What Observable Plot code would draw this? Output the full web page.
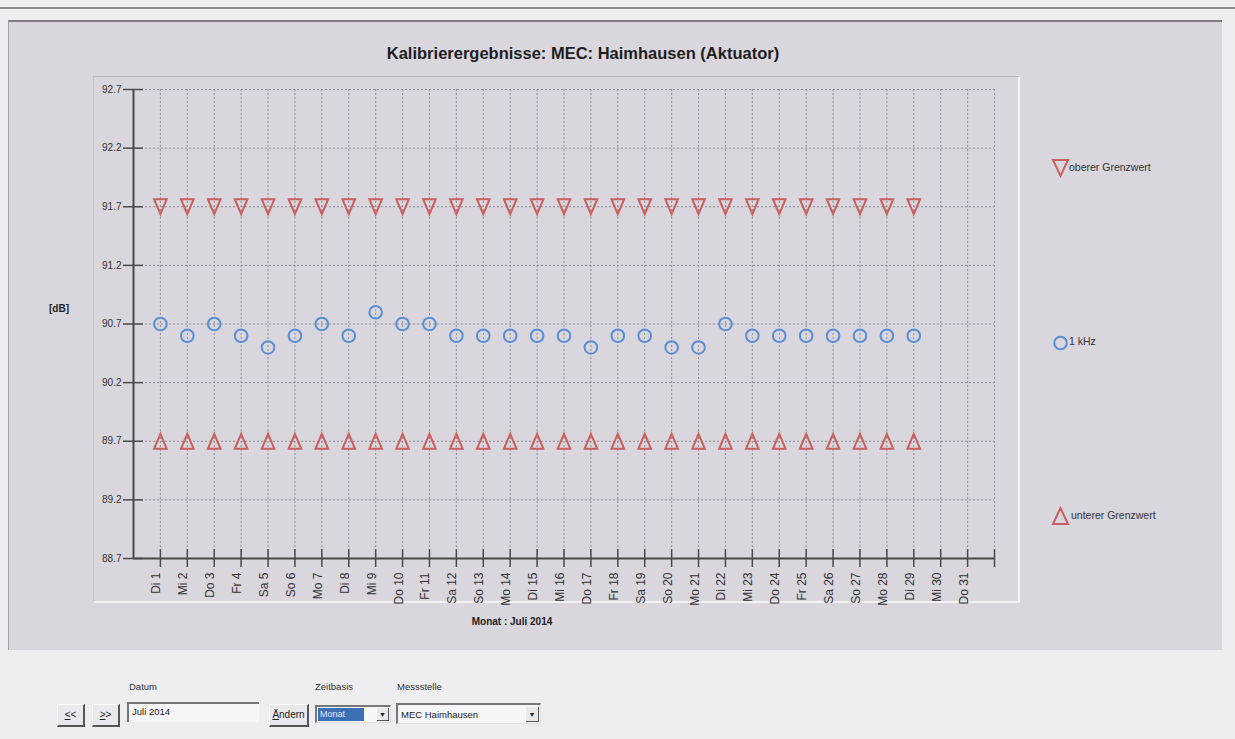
<!DOCTYPE html>
<html><head><meta charset="utf-8">
<script src="https://cdn.jsdelivr.net/npm/d3@7"></script>
<script src="https://cdn.jsdelivr.net/npm/@observablehq/plot@0.6"></script>
<style>
body{margin:0;background:#eeedf0;}
#root{position:relative;width:1235px;height:739px;overflow:hidden;font-family:"Liberation Sans",Arial,sans-serif;color:#222;}
.abs{position:absolute;}
.lbl{font-size:9.5px;color:#333;}
.btn{position:absolute;box-sizing:border-box;background:#e9e8ec;border-top:1px solid #fff;border-left:1px solid #fff;border-right:2px solid #555;border-bottom:2px solid #555;font-size:10px;color:#222;text-align:center;}
.field{position:absolute;box-sizing:border-box;background:#f6f6f8;border-top:2px solid #777;border-left:2px solid #777;border-right:1px solid #ddd;border-bottom:1px solid #ddd;font-size:9.5px;color:#222;}
.legtxt{position:absolute;font-size:10.5px;color:#333;white-space:nowrap;}
</style></head><body>
<div id="root">
  <div class="abs" style="left:0;top:7px;width:1235px;height:2px;background:#8c8b8f"></div>
  <div class="abs" style="left:8px;top:20px;width:1214px;height:630px;background:#d9d6dd;border-top:2px solid #7f7d82;border-left:1px solid #a3a0a6;box-sizing:border-box"></div>
  <div class="abs" style="left:93px;top:76px;width:927px;height:527px;box-sizing:border-box;border-top:1px solid #b8b5bc;border-left:1px solid #c4c1c8;border-right:2px solid #f3f2f5;border-bottom:2px solid #f3f2f5"></div>
  <div class="abs" style="left:0;top:44px;width:1166px;text-align:center;font-weight:bold;font-size:16.5px;color:#1e1e1e">Kalibrierergebnisse: MEC: Haimhausen (Aktuator)</div>
  <div class="abs" style="left:49px;top:303px;font-weight:bold;font-size:10px;color:#222">[dB]</div>
  <div class="abs" style="left:412px;top:616px;width:200px;text-align:center;font-weight:bold;font-size:10px;color:#222">Monat : Juli 2014</div>
  <div id="chart" class="abs" style="left:0;top:0"></div>

  <svg class="abs" style="left:1050px;top:157px" width="22" height="22"><path d="M3,3 L18,3 L10.5,19 Z" fill="none" stroke="#c9605f" stroke-width="2"/></svg>
  <div class="legtxt" style="left:1069px;top:161px">oberer Grenzwert</div>
  <svg class="abs" style="left:1050px;top:332px" width="22" height="22"><circle cx="10.5" cy="11" r="6.3" fill="none" stroke="#5a8fd6" stroke-width="2"/></svg>
  <div class="legtxt" style="left:1069px;top:335px">1 kHz</div>
  <svg class="abs" style="left:1050px;top:505px" width="22" height="22"><path d="M3,19 L18,19 L10.5,3 Z" fill="none" stroke="#c9605f" stroke-width="2"/></svg>
  <div class="legtxt" style="left:1071px;top:509px">unterer Grenzwert</div>

  <div class="abs lbl" style="left:129px;top:681px">Datum</div>
  <div class="abs lbl" style="left:315px;top:681px">Zeitbasis</div>
  <div class="abs lbl" style="left:397px;top:681px">Messstelle</div>
  <div class="btn" style="left:57px;top:704px;width:28px;height:23px;line-height:20px"><u>&lt;</u>&lt;</div>
  <div class="btn" style="left:92px;top:704px;width:28px;height:23px;line-height:20px"><u>&gt;</u>&gt;</div>
  <div class="field" style="left:127px;top:702px;width:132px;height:20px;line-height:16px;padding-left:3px;border-bottom:none;border-right:none">Juli 2014</div>
  <div class="btn" style="left:269px;top:704px;width:40px;height:23px;line-height:20px"><u>Ä</u>ndern</div>
  <div class="field" style="left:315px;top:705px;width:76px;height:18px;">
    <div class="abs" style="left:1px;top:1px;width:44px;height:13px;background:#3c6fb4;color:#dfe8f8;line-height:13px;padding-left:2px;font-size:9px">Monat</div>
    <div class="abs" style="right:1px;top:1px;width:12px;height:13px;background:#e9e8ec;border-right:1px solid #555;border-bottom:1px solid #555;box-sizing:border-box;font-size:7px;text-align:center;line-height:13px">&#9660;</div>
  </div>
  <div class="field" style="left:396px;top:703px;width:145px;height:21px;">
    <div class="abs" style="left:3px;top:3px;line-height:13px">MEC Haimhausen</div>
    <div class="abs" style="right:1px;top:2px;width:13px;height:15px;background:#e9e8ec;border-right:1px solid #555;border-bottom:1px solid #555;box-sizing:border-box;font-size:7px;text-align:center;line-height:15px">&#9660;</div>
  </div>
</div>
<script>
// ---- data ----
const dayLabels = ["Di 1","Mi 2","Do 3","Fr 4","Sa 5","So 6","Mo 7","Di 8","Mi 9","Do 10","Fr 11","Sa 12","So 13","Mo 14","Di 15","Mi 16","Do 17","Fr 18","Sa 19","So 20","Mo 21","Di 22","Mi 23","Do 24","Fr 25","Sa 26","So 27","Mo 28","Di 29","Mi 30","Do 31"];
const measDays = [1,2,3,4,5,6,7,8,9,10,11,12,13,14,15,16,17,18,19,20,21,22,23,24,25,26,27,28,29];
const kHz1 = [90.7,90.6,90.7,90.6,90.5,90.6,90.7,90.6,90.8,90.7,90.7,90.6,90.6,90.6,90.6,90.6,90.5,90.6,90.6,90.5,90.5,90.7,90.6,90.6,90.6,90.6,90.6,90.6,90.6];
const upperLimit = [91.7,91.7,91.7,91.7,91.7,91.7,91.7,91.7,91.7,91.7,91.7,91.7,91.7,91.7,91.7,91.7,91.7,91.7,91.7,91.7,91.7,91.7,91.7,91.7,91.7,91.7,91.7,91.7,91.7];
const lowerLimit = [89.7,89.7,89.7,89.7,89.7,89.7,89.7,89.7,89.7,89.7,89.7,89.7,89.7,89.7,89.7,89.7,89.7,89.7,89.7,89.7,89.7,89.7,89.7,89.7,89.7,89.7,89.7,89.7,89.7];
const xTicks = [1,2,3,4,5,6,7,8,9,10,11,12,13,14,15,16,17,18,19,20,21,22,23,24,25,26,27,28,29,30,31,32];
const yTicks = [88.7,89.2,89.7,90.2,90.7,91.2,91.7,92.2,92.7];

const rows = measDays.map((d,i)=>({day:d, khz:kHz1[i], up:upperLimit[i], lo:lowerLimit[i]}));
const labelRows = dayLabels.map((t,i)=>({day:i+1, text:t}));

const triDown = {draw(ctx,size){const r=Math.sqrt(size/Math.PI);const w=r*0.9,h=r*1.07;ctx.moveTo(-w,-h);ctx.lineTo(w,-h);ctx.lineTo(0,h);ctx.closePath();}};
const triUp = {draw(ctx,size){const r=Math.sqrt(size/Math.PI);const w=r*0.9,h=r*1.07;ctx.moveTo(-w,h);ctx.lineTo(w,h);ctx.lineTo(0,-h);ctx.closePath();}};

const W=1235,H=620,ML=133,MR=241,MT=89,MB=62;
const frameH=H-MT-MB, frameW=W-ML-MR;
const red="#c9605f", blue="#5a8fd6", grid="#8d8992", axis="#4a4a4c";

const chart = Plot.plot({
  width:W, height:H, marginLeft:ML, marginRight:MR, marginTop:MT, marginBottom:MB,
  style:{background:"transparent", overflow:"visible", fontFamily:"Liberation Sans, Arial, sans-serif"},
  x:{type:"linear", domain:[0,32], axis:null},
  y:{type:"linear", domain:[88.7,92.7], axis:null},
  marks:[
    Plot.ruleX(xTicks,{x:d=>d, stroke:grid, strokeDasharray:"2,2", strokeWidth:1}),
    Plot.ruleY(yTicks,{y:d=>d, stroke:grid, strokeDasharray:"2,2", strokeWidth:1}),
    Plot.ruleX([0],{x:d=>d, stroke:axis, strokeWidth:2}),
    Plot.ruleY([88.7],{y:d=>d, stroke:axis, strokeWidth:2}),
    Plot.tickY(yTicks,{y:d=>d, stroke:axis, strokeWidth:1.5, insetLeft:-10, insetRight:frameW-10}),
    Plot.tickX(xTicks,{x:d=>d, stroke:axis, strokeWidth:1.5, insetTop:frameH-9, insetBottom:-9}),
    Plot.text(yTicks,{y:d=>d, text:d=>d.toFixed(1), frameAnchor:"left", textAnchor:"end", dx:-12, fontSize:10, fill:"#333"}),
    Plot.text(labelRows,{x:"day", text:"text", frameAnchor:"bottom", rotate:-90, textAnchor:"end", dy:14, fontSize:12, fill:"#333"}),
    Plot.dot(rows,{x:"day", y:"up", symbol:triDown, r:7, stroke:red, strokeWidth:2, fill:"none"}),
    Plot.dot(rows,{x:"day", y:"lo", symbol:triUp, r:7, stroke:red, strokeWidth:2, fill:"none"}),
    Plot.dot(rows,{x:"day", y:"khz", r:6.3, stroke:blue, strokeWidth:2, fill:"none"})
  ]
});
document.getElementById("chart").appendChild(chart);
</script>
</body></html>
